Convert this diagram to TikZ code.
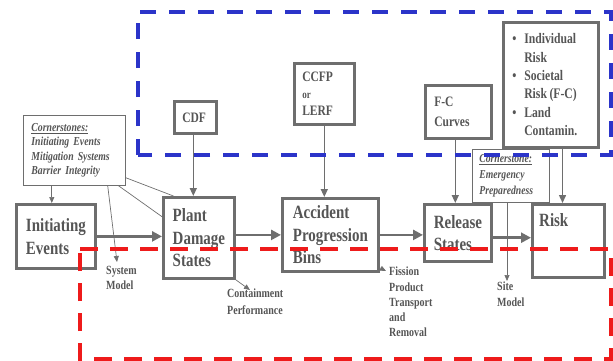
\documentclass[tikz,border=0pt]{standalone}
\usepackage{fontspec}
\setmainfont{Liberation Serif}[FakeStretch=0.8]
\usetikzlibrary{arrows.meta,calc}
\definecolor{txtgray}{HTML}{555555}
\definecolor{boxgray}{HTML}{6E6E6E}
\definecolor{dblue}{HTML}{2B34C9}
\definecolor{dred}{HTML}{EE1B1B}
\begin{document}
\begin{tikzpicture}[x=1pt,y=-1pt,
 bigbox/.style={draw=boxgray,line width=2.8pt,anchor=north west,align=left,text=txtgray,font=\bfseries\fontsize{18.7}{22.5}\selectfont,inner sep=0pt},
 smallbox/.style={draw=boxgray,line width=2.6pt,anchor=north west,align=left,text=txtgray,font=\bfseries\fontsize{14.4}{17}\selectfont,inner xsep=8pt,inner ysep=0pt},
 thinbox/.style={draw=boxgray,line width=0.8pt,anchor=north west,align=left,text=txtgray,font=\bfseries\itshape\fontsize{12.2}{14.5}\selectfont,inner xsep=8pt,inner ysep=0pt},
 lbl/.style={anchor=north west,align=left,text=txtgray,font=\bfseries\fontsize{12.5}{15.5}\selectfont,inner sep=0pt},
 mainarrow/.style={draw=boxgray,line width=2.4pt,-{Triangle[length=10pt,width=10pt]}},
 feedarrow/.style={draw=boxgray,line width=1.4pt,-{Triangle[length=8pt,width=7pt]}},
 thinline/.style={draw=boxgray,line width=0.7pt},
 thinarrow/.style={draw=boxgray,line width=0.7pt,-{Triangle[length=6pt,width=5pt]}},
 bluedash/.style={draw=dblue,line width=4pt,dash pattern=on 16pt off 13pt},
 reddash/.style={draw=dred,line width=4.5pt,dash pattern=on 18pt off 12pt},
]
\useasboundingbox (0,0) rectangle (613,360);

% main chain
\node[bigbox,minimum width=79,minimum height=64] (ie) at (15,203) {Initiating\\Events};
\node[bigbox,minimum width=71,minimum height=81] (pd) at (162,196) {Plant\\Damage\\States};
\node[bigbox,minimum width=96,minimum height=73] (ap) at (281,197) {Accident\\Progression\\Bins};
\node[bigbox,minimum width=67,minimum height=57] (rs) at (423,203) {Release\\States};
\node[bigbox,minimum width=72,minimum height=73] (ri) at (531,203) {};
\node[anchor=north west,inner sep=0pt,text=txtgray,font=\bfseries\fontsize{18.7}{22.5}\selectfont] (ritxt) at (539,213) {Risk};

% metric boxes
\node[smallbox,text width=26,minimum height=32] (cdf) at (173,100) {CDF};
\node[smallbox,text width=44,minimum height=61] (cc) at (293,62) {CCFP\\{\fontsize{11.3}{16}\selectfont or}\\LERF};
\node[smallbox,text width=48,minimum height=53,inner xsep=9pt,font=\bfseries\fontsize{14.4}{20}\selectfont] (fc) at (424,84) {F-C\\Curves};
\node[smallbox,text width=77,minimum height=125,inner xsep=9pt,font=\bfseries\fontsize{14.6}{18.4}\selectfont] (br) at (502,21)
 {\makebox[12pt][l]{\textbullet}Individual\\\hspace*{12pt}Risk\\\makebox[12pt][l]{\textbullet}Societal\\\hspace*{12pt}Risk\hspace{2.5pt}(F-C)\\\makebox[12pt][l]{\textbullet}Land\\\hspace*{12pt}Contamin.};

% cornerstone boxes
\node[thinbox,text width=86,minimum height=70] (cs) at (23,115)
 {\underline{Cornerstones:}\\Initiating Events\\Mitigation Systems\\Barrier Integrity};
\node[thinbox,text width=63,minimum height=53,inner xsep=7pt,font=\bfseries\itshape\fontsize{12.1}{16}\selectfont] (ep) at (472,149)
 {\underline{Cornerstone:}\\Emergency\\Preparedness};

% labels
\node[lbl] (sm) at (106,266) {System\\Model};
\node[lbl,font=\bfseries\fontsize{12.5}{17}\selectfont] (cp) at (227,289) {Containment\\Performance};
\node[lbl,font=\bfseries\fontsize{12.5}{15.2}\selectfont] (fp) at (389,267) {Fission\\Product\\Transport\\and\\Removal};
\node[lbl,font=\bfseries\fontsize{12.5}{16}\selectfont] (sitem) at (497,282) {Site\\Model};
\coordinate (smtip) at (117,262);
\coordinate (cptip) at (250,290);
\coordinate (fptip) at (386,271);
\coordinate (sitetip) at (507,281);

% main arrows
\draw[mainarrow] (ie.east) -- (ie.east -| pd.west);
\draw[mainarrow] (ap.west -| pd.east) -- (ap.west);
\draw[mainarrow] (ap.east) -- (ap.east -| rs.west);
\draw[mainarrow] ($(rs.north east)!0.58!(rs.south east)$) coordinate (rr) -- (rr -| ri.west);

% feed arrows
\draw[feedarrow] ($(cdf.south)+(-2,0)$) coordinate (c1) -- (c1 |- pd.north);
\draw[feedarrow] (cc.south) -- (cc.south |- ap.north);
\draw[feedarrow] ($(fc.south)+(-3,0)$) coordinate (c2) -- (c2 |- rs.north);
\draw[feedarrow] ($(br.south west)!0.62!(br.south east)$) coordinate (c3) -- (c3 |- ri.north);

% thin lines
\draw[thinarrow] ($(cs.south west)!0.28!(cs.south east)$) coordinate (c4) -- (c4 |- ie.north);
\draw[thinline] ($(cs.north east)!0.886!(cs.south east)$) -- ($(pd.north west)!0.155!(pd.north east)$);
\draw[thinline] ($(cs.south west)!0.93!(cs.south east)$) -- ($(pd.north west)!0.247!(pd.south west)$);
\draw[thinarrow] ($(cs.south west)!0.824!(cs.south east)$) -- (smtip);
\draw[thinarrow] (pd.south east) -- (cptip);
\draw[thinarrow] ($(ap.south east)+(0,-5)$) -- (fptip);
\draw[thinarrow] (ep.south -| sitetip) -- (sitetip);

% dashed regions
\draw[bluedash] (138,155) -- (138,12) -- (611,12) -- (611,155) -- cycle;
\draw[reddash] (80,249) -- (611,249) -- (611,359) -- (80,359) -- cycle;
\end{tikzpicture}
\end{document}
